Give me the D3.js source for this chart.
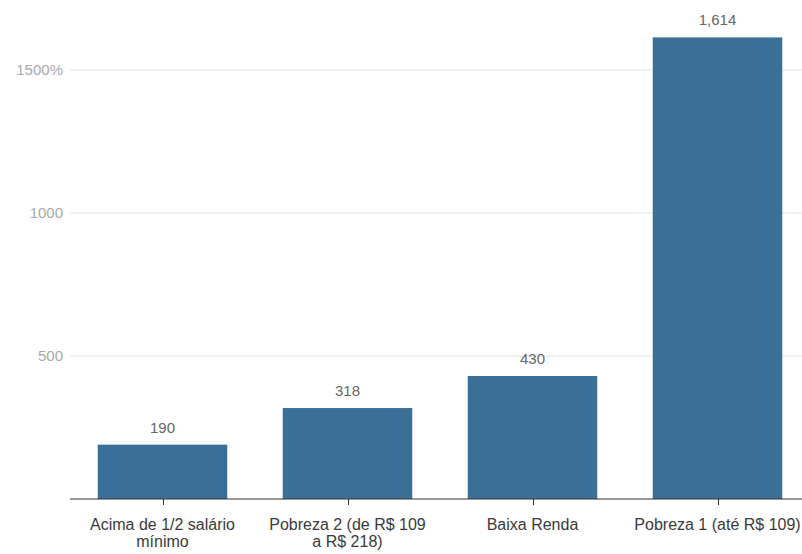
<!DOCTYPE html>
<html><head><meta charset="utf-8">
<script src="https://cdn.jsdelivr.net/npm/d3@7"></script>
<style>body{margin:0;background:#fff}svg{display:block}text{font-family:"Liberation Sans",Arial,sans-serif}</style>
</head><body>
<svg id="c" width="802" height="554"></svg>
<script>
const categories = [["Acima de 1/2 salário","mínimo"],["Pobreza 2 (de R$ 109","a R$ 218)"],["Baixa Renda"],["Pobreza 1 (até R$ 109)"]];
const values = [190, 318, 430, 1614];
const yTicks = [500, 1000, 1500];
const yTickLabels = ["500", "1000", "1500%"];

const svg = d3.select("#c");
const x = d3.scaleBand().domain(d3.range(categories.length)).range([70, 810]).paddingInner(0.3).paddingOuter(0.15);
const y = d3.scaleLinear().domain([0, 1500]).range([499, 70]);

// grid
svg.selectAll("line.grid").data(yTicks).join("line")
  .attr("x1", 70).attr("x2", 802).attr("y1", d => y(d)).attr("y2", d => y(d))
  .attr("stroke", "#e3e3e3").attr("stroke-width", 1);
svg.selectAll("text.yt").data(yTicks).join("text")
  .attr("x", 63).attr("y", d => y(d)).attr("dy", "0.35em").attr("text-anchor", "end")
  .attr("fill", "#aaa").attr("font-size", 15).text((d, i) => yTickLabels[i]);

// bars
svg.selectAll("rect.bar").data(values).join("rect")
  .attr("x", (d, i) => x(i)).attr("width", x.bandwidth())
  .attr("y", d => y(d)).attr("height", d => y(0) - y(d))
  .attr("fill", "#3a6f98");

svg.selectAll("text.val").data(values).join("text")
  .attr("x", (d, i) => x(i) + x.bandwidth() / 2).attr("y", d => y(d) - 12)
  .attr("text-anchor", "middle").attr("fill", "#666").attr("font-size", 15)
  .text(d => d3.format(",")(d));

// baseline axis
svg.append("line").attr("x1", 70).attr("x2", 802).attr("y1", y(0)).attr("y2", y(0))
  .attr("stroke", "#333").attr("stroke-width", 1);
svg.selectAll("line.tick").data(categories).join("line")
  .attr("x1", (d, i) => Math.round(x(i) + x.bandwidth() / 2) + 0.5)
  .attr("x2", (d, i) => Math.round(x(i) + x.bandwidth() / 2) + 0.5)
  .attr("y1", y(0)).attr("y2", y(0) + 6).attr("stroke", "#333");
const cl = svg.selectAll("text.cat").data(categories).join("text")
  .attr("text-anchor", "middle").attr("fill", "#3a3a3a").attr("font-size", 16);
cl.each(function(d, i) {
  const t = d3.select(this);
  d.forEach((line, j) => {
    t.append("tspan").attr("x", x(i) + x.bandwidth() / 2).attr("y", 530 + j * 17).text(line);
  });
});
</script>
</body></html>
